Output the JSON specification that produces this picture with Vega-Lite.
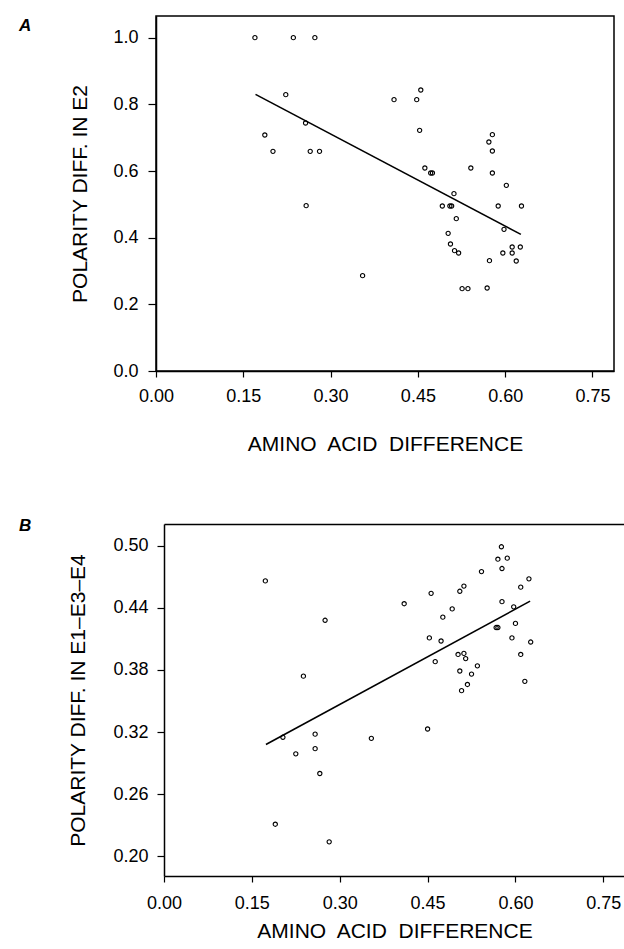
{
  "$schema": "https://vega.github.io/schema/vega-lite/v6.json",
  "padding": {"left": 18, "top": 15, "right": 0, "bottom": 0},
  "background": "white",
  "spacing": 62,
  "config": {
    "font": "Liberation Sans",
    "view": {"stroke": "black", "strokeWidth": 1.5},
    "axis": {
      "grid": false,
      "domainColor": "black",
      "domainWidth": 1.5,
      "tickColor": "black",
      "tickWidth": 1.2,
      "labelColor": "black",
      "titleColor": "black",
      "labelFont": "Liberation Sans",
      "titleFont": "Liberation Sans",
      "labelFontSize": 18,
      "titleFontSize": 21,
      "titleFontWeight": "normal",
      "labelFlush": false,
      "labelOverlap": false
    }
  },
  "datasets": {
    "a": [
      {"aa": 0.170, "pol": 1.0}, {"aa": 0.236, "pol": 1.0}, {"aa": 0.273, "pol": 1.0},
      {"aa": 0.223, "pol": 0.829}, {"aa": 0.257, "pol": 0.744}, {"aa": 0.187, "pol": 0.708},
      {"aa": 0.201, "pol": 0.659}, {"aa": 0.265, "pol": 0.659}, {"aa": 0.281, "pol": 0.659},
      {"aa": 0.258, "pol": 0.496}, {"aa": 0.355, "pol": 0.286}, {"aa": 0.455, "pol": 0.843},
      {"aa": 0.409, "pol": 0.814}, {"aa": 0.448, "pol": 0.814}, {"aa": 0.453, "pol": 0.722},
      {"aa": 0.578, "pol": 0.709}, {"aa": 0.572, "pol": 0.687}, {"aa": 0.578, "pol": 0.660},
      {"aa": 0.462, "pol": 0.609}, {"aa": 0.472, "pol": 0.594}, {"aa": 0.475, "pol": 0.594},
      {"aa": 0.541, "pol": 0.609}, {"aa": 0.578, "pol": 0.594}, {"aa": 0.602, "pol": 0.557},
      {"aa": 0.512, "pol": 0.532}, {"aa": 0.492, "pol": 0.495}, {"aa": 0.505, "pol": 0.495},
      {"aa": 0.508, "pol": 0.495}, {"aa": 0.588, "pol": 0.495}, {"aa": 0.628, "pol": 0.495},
      {"aa": 0.516, "pol": 0.457}, {"aa": 0.598, "pol": 0.425}, {"aa": 0.502, "pol": 0.413},
      {"aa": 0.506, "pol": 0.381}, {"aa": 0.513, "pol": 0.361}, {"aa": 0.520, "pol": 0.354},
      {"aa": 0.612, "pol": 0.372}, {"aa": 0.626, "pol": 0.372}, {"aa": 0.596, "pol": 0.354},
      {"aa": 0.612, "pol": 0.354}, {"aa": 0.573, "pol": 0.331}, {"aa": 0.619, "pol": 0.330},
      {"aa": 0.526, "pol": 0.247}, {"aa": 0.536, "pol": 0.247}, {"aa": 0.569, "pol": 0.249}
    ],
    "fitA": [
      {"aa": 0.171, "pol": 0.830}, {"aa": 0.627, "pol": 0.410}
    ],
    "b": [
      {"aa": 0.173, "pol": 0.466}, {"aa": 0.275, "pol": 0.428}, {"aa": 0.238, "pol": 0.374},
      {"aa": 0.203, "pol": 0.315}, {"aa": 0.258, "pol": 0.318}, {"aa": 0.225, "pol": 0.299},
      {"aa": 0.258, "pol": 0.304}, {"aa": 0.266, "pol": 0.280}, {"aa": 0.354, "pol": 0.314},
      {"aa": 0.190, "pol": 0.231}, {"aa": 0.282, "pol": 0.214}, {"aa": 0.576, "pol": 0.499},
      {"aa": 0.570, "pol": 0.487}, {"aa": 0.586, "pol": 0.488}, {"aa": 0.577, "pol": 0.478},
      {"aa": 0.542, "pol": 0.475}, {"aa": 0.623, "pol": 0.468}, {"aa": 0.609, "pol": 0.460},
      {"aa": 0.512, "pol": 0.461}, {"aa": 0.505, "pol": 0.456}, {"aa": 0.456, "pol": 0.454},
      {"aa": 0.410, "pol": 0.444}, {"aa": 0.577, "pol": 0.446}, {"aa": 0.597, "pol": 0.441},
      {"aa": 0.492, "pol": 0.439}, {"aa": 0.476, "pol": 0.431}, {"aa": 0.600, "pol": 0.425},
      {"aa": 0.567, "pol": 0.421}, {"aa": 0.570, "pol": 0.421}, {"aa": 0.453, "pol": 0.411},
      {"aa": 0.473, "pol": 0.408}, {"aa": 0.594, "pol": 0.411}, {"aa": 0.626, "pol": 0.407},
      {"aa": 0.463, "pol": 0.388}, {"aa": 0.502, "pol": 0.395}, {"aa": 0.512, "pol": 0.396},
      {"aa": 0.515, "pol": 0.391}, {"aa": 0.609, "pol": 0.395}, {"aa": 0.535, "pol": 0.384},
      {"aa": 0.505, "pol": 0.379}, {"aa": 0.525, "pol": 0.376}, {"aa": 0.518, "pol": 0.366},
      {"aa": 0.508, "pol": 0.360}, {"aa": 0.616, "pol": 0.369}, {"aa": 0.450, "pol": 0.323}
    ],
    "fitB": [
      {"aa": 0.174, "pol": 0.308}, {"aa": 0.625, "pol": 0.4465}
    ]
  },
  "vconcat": [
    {
      "width": 458,
      "height": 355,
      "title": {
        "text": "A", "anchor": "start", "frame": "group", "orient": "top", "offset": -17,
        "baseline": "top", "dx": -137, "dy": 2, "fontSize": 17, "fontStyle": "italic",
        "fontWeight": "bold", "font": "Liberation Sans", "color": "black"
      },
      "encoding": {
        "x": {
          "field": "aa", "type": "quantitative",
          "scale": {"domain": [0, 0.787], "nice": false, "zero": false},
          "axis": {
            "title": "AMINO\u00a0 ACID\u00a0 DIFFERENCE",
            "values": [0, 0.15, 0.3, 0.45, 0.6, 0.75], "format": ".2f",
            "tickSize": 6, "labelPadding": 10, "titlePadding": 28
          }
        },
        "y": {
          "field": "pol", "type": "quantitative",
          "scale": {"domain": [0, 1.065], "nice": false, "zero": false},
          "axis": {
            "title": "POLARITY DIFF. IN E2",
            "values": [0, 0.2, 0.4, 0.6, 0.8, 1.0], "format": ".1f",
            "tickSize": 8, "labelPadding": 10, "titlePadding": 22
          }
        }
      },
      "layer": [
        {
          "data": {"name": "a"},
          "mark": {"type": "point", "shape": "circle", "filled": false, "size": 18, "color": "black", "strokeWidth": 1.1, "opacity": 1}
        },
        {
          "data": {"name": "fitA"},
          "mark": {"type": "line", "color": "black", "strokeWidth": 1.6}
        }
      ]
    },
    {
      "width": 469,
      "height": 352,
      "view": {"stroke": null},
      "title": {
        "text": "B", "anchor": "start", "frame": "group", "orient": "top", "offset": -15,
        "baseline": "top", "dx": -137, "dy": -4, "fontSize": 17, "fontStyle": "italic",
        "fontWeight": "bold", "font": "Liberation Sans", "color": "black"
      },
      "encoding": {
        "y": {
          "field": "pol", "type": "quantitative",
          "scale": {"domain": [0.181, 0.521], "nice": false, "zero": false},
          "axis": {
            "title": "POLARITY DIFF. IN E1\u2013E3\u2013E4",
            "values": [0.2, 0.26, 0.32, 0.38, 0.44, 0.5], "format": ".2f",
            "tickSize": 7, "labelPadding": 9, "titlePadding": 24, "offset": -8
          }
        }
      },
      "resolve": {"axis": {"x": "independent"}},
      "layer": [
        {
          "data": {"name": "b"},
          "mark": {"type": "point", "shape": "circle", "filled": false, "size": 18, "color": "black", "strokeWidth": 1.1, "opacity": 1},
          "encoding": {
            "x": {
              "field": "aa", "type": "quantitative",
              "scale": {"domain": [0, 0.787], "nice": false, "zero": false, "range": [8, 469]},
              "axis": {
                "title": "AMINO\u00a0 ACID\u00a0 DIFFERENCE",
                "values": [0, 0.15, 0.3, 0.45, 0.6, 0.75], "format": ".2f",
                "tickSize": 6, "labelPadding": 12, "titlePadding": 8
              }
            }
          }
        },
        {
          "data": {"name": "fitB"},
          "mark": {"type": "line", "color": "black", "strokeWidth": 1.6},
          "encoding": {
            "x": {
              "field": "aa", "type": "quantitative",
              "axis": {"orient": "top", "labels": false, "ticks": false, "title": null, "domain": true}
            }
          }
        }
      ]
    }
  ]
}
